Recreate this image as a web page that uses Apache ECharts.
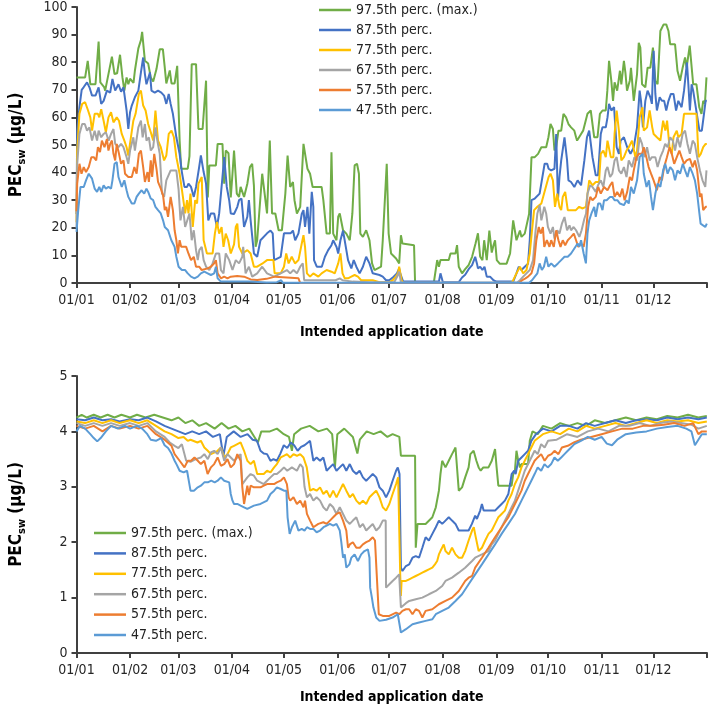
<!DOCTYPE html>
<html>
<head>
<meta charset="utf-8">
<script src="https://cdn.jsdelivr.net/npm/echarts@6/dist/echarts.min.js"></script>
<style>html,body{margin:0;padding:0;background:#fff}#c{width:709px;height:715px}</style>
</head>
<body>
<div id="c"></div>
<script>
// ---- DATA ----
const monthDays = [0,31,59,90,120,151,181,212,243,273,304,334,365];
const monthLabels = ['01/01','01/02','01/03','01/04','01/05','01/06','01/07','01/08','01/09','01/10','01/11','01/12'];
const seriesNames = ['97.5th perc. (max.)','87.5th perc.','77.5th perc.','67.5th perc.','57.5th perc.','47.5th perc.'];
const yTopMax = 100, yTopStep = 10, yBotMax = 5, yBotStep = 1;

// upper panel: [day of year, PEC µg/L]
const top975 = [[0,74.5],[5,74.5],[6.5,80.5],[8,72],[11,72],[12.8,87.5],[13.8,72.7],[16,71],[16.6,69.7],[20.5,82],[22,75.7],[23.5,76],[25.2,82.7],[26.6,74.5],[27.7,69.7],[29,74.5],[30,72],[31,74],[32,74],[33,72.5],[33.8,76.9],[35.8,85],[37.3,88],[38,91],[38.8,91],[39.6,80.5],[41.5,79.5],[43,74.5],[44.4,73],[46.3,77.5],[48.2,84.7],[50,84.7],[51,78.7],[52,72.3],[54,77],[55,72.3],[56.8,72.3],[58.3,78.7],[59.7,51.6],[60.6,41.4],[64.4,41.4],[65.4,46],[66.7,79.3],[69.2,79.3],[70.6,55.8],[73,55.8],[75,73.3],[76,31],[76.9,42.6],[80.7,42.6],[81.7,50.4],[84.5,50.4],[85.5,36],[86.4,48],[88,47],[89.3,31],[90.3,39.6],[91.2,48],[92.8,32.4],[94.1,31.2],[95,34.8],[97,31.2],[98.9,36],[100.4,42],[101.7,43.2],[102.7,35.4],[103.7,13.1],[104.6,15.5],[107.5,39.6],[110.3,25.2],[111.9,51.6],[113.2,25.2],[115.1,25.2],[117,19.1],[118.9,19.1],[120.9,32.4],[122.2,46.2],[123.7,34.8],[125.3,36.6],[126.2,30],[127.6,25.2],[129.5,27.6],[131.4,50.4],[132.3,50.4],[133.7,41.4],[135.2,39.6],[136.7,34.8],[141.9,34.8],[142.9,30],[144.8,17.9],[146.7,17.9],[147.6,47.4],[148.6,17.9],[150.5,15.5],[151.5,24],[152.4,25.2],[154.3,19.1],[156.2,17.9],[158.2,15.5],[159.7,25.2],[161,42.6],[162.4,43.2],[163.5,39.6],[164.3,17.9],[165.8,16.7],[167.7,19.1],[169.6,15.5],[171.1,7.1],[172.5,4.7],[176.3,5.9],[177.3,15.5],[179.6,43.2],[180.7,17.9],[182.1,10.7],[185,8.9],[186.8,7.1],[187.8,17.3],[188.7,14.3],[195.4,13.7],[196,0.3],[206.9,0.3],[208.8,8.3],[209.8,5.9],[210.7,8.3],[215.5,8.3],[216.5,10.7],[219.4,10.7],[220.3,13.7],[221.3,5.9],[223.2,3.5],[225,5],[227,6.5],[229,9.5],[231,14.3],[232.4,18],[233.7,9.5],[235,8.3],[236,15.5],[237.5,8.3],[239,19],[240.4,11],[241.4,13.7],[242.3,15.5],[243.3,8.3],[245,7],[249,7],[251,10.7],[252.8,22.7],[254.7,15.5],[256.7,19],[257.6,16.7],[259.5,17.9],[262,25],[263.4,45.6],[265.3,45.6],[267.2,46.8],[269.1,49.2],[271.9,49.2],[273.2,52.8],[274.4,57.6],[275.8,55.8],[276.7,48],[277.7,49.2],[279,55.2],[280.6,55.2],[281.9,61.3],[283.4,60],[284.8,57.6],[286.3,56.4],[288.2,55.2],[289.2,52.8],[289.8,51.6],[292.1,54],[293.3,55.2],[295.8,61.3],[297.7,62.5],[299.7,52.8],[301.6,52.8],[303,61.3],[304.5,62.5],[306.4,62.5],[307.3,69.7],[308.3,80.5],[309.6,73.3],[310.6,66],[311.5,72.7],[313,69.7],[314.6,76.9],[315.4,72],[316.9,80.5],[317.8,76],[318.7,69.7],[320.3,73.3],[321,78],[322.6,66],[324.5,75.7],[325.5,87],[326.4,85.3],[327.4,72],[329.3,70.9],[330.6,78],[332.2,78],[333.7,85.3],[335.1,73.3],[336.4,72],[338,91.3],[339.9,93.7],[341.4,93.7],[342.7,91.3],[343.7,86.5],[346.5,86.5],[347.9,76.9],[349.4,73.3],[350.9,78],[352.3,81.7],[353.2,78],[355,86],[357,72],[358.9,72],[360.5,63.7],[361.8,61.3],[362.8,66],[363.8,65],[364.7,74.5]];
const top875 = [[0,25],[0.4,55],[1.7,63.7],[3,70],[4.2,71],[6.1,72.7],[7.5,70.9],[9,67.9],[11,67.9],[12.8,70.9],[14.3,64.9],[15.7,66],[17.6,69.7],[19.5,69],[20.8,73.9],[22.4,69.7],[24.3,72],[25.8,69.3],[27.2,70.9],[29,62.5],[30,55.8],[31,61.9],[32,64.3],[33.8,67.3],[35.8,69.7],[37.3,76.3],[38.6,81.7],[39.6,75.7],[40.5,72],[42.5,76.3],[43.4,69.7],[45.3,69],[47.2,69.7],[49.1,69],[50.7,67.9],[52,64.9],[53.4,68.5],[54.5,64.9],[55.8,61.3],[57.8,52.8],[59.7,46.8],[61,40.2],[62.5,34.8],[64,34.8],[64.8,36],[66.3,34.8],[67.9,31.2],[69.2,34.8],[71,42],[72,46.2],[73.6,40.2],[75,36],[76.3,22.7],[77.8,25.2],[79.7,25.2],[81.3,20.3],[82.6,25.2],[84.5,38.4],[85.5,45.6],[87,34.8],[88.4,30],[89.3,25.2],[91.2,25],[93.1,27.6],[94.1,30],[95.5,30.6],[97,20.3],[98.9,24],[99.8,30],[100.8,22.7],[102.7,10.7],[104.6,9.5],[106.5,15.5],[110.3,18],[112.3,19],[113.6,18],[114.4,8.3],[118.2,9.5],[120.1,18],[123.9,18],[125.3,19],[126.6,15.5],[128.5,18],[130.4,25],[131.4,26.4],[132.3,20.3],[133.7,27.6],[134.8,17.9],[136.2,33],[137.1,27.6],[137.5,8.3],[139.1,5.9],[142,5.9],[143.8,9.5],[145.7,11.9],[147.6,13.7],[148.6,15.5],[150.5,13.1],[151.5,10.7],[152.8,15.5],[154.3,19],[155.9,13.1],[157.2,8.3],[159.1,5.3],[160.5,8.3],[162,5.9],[163.9,3.5],[165.8,5.9],[167.7,9.5],[169.6,7.1],[171.5,3.5],[175.4,2.9],[177.3,2.3],[179.2,1],[181.1,1],[183.6,2.3],[185.5,3.5],[186.8,5.3],[187.4,3.5],[189.1,0.5],[209.8,0.5],[210.7,3.5],[212.1,0.3],[221.3,0.3],[223.2,2],[225,3],[227,5],[229,6.5],[230.8,9.5],[231.8,7.1],[232.4,5.3],[233.7,5.9],[235,4.7],[236.2,5.9],[237.5,2.3],[239.4,2.3],[241.4,1],[243,0.5],[252.8,0.5],[254.7,3.5],[256,5.9],[257.6,4.7],[259.5,5.9],[261.4,7],[262.4,15.5],[263.4,30],[265.3,30.6],[266.2,31.2],[268.1,32.4],[271,43.2],[272.5,43.2],[273.3,41.4],[274.8,40.8],[276.7,41.4],[277.7,54],[278.7,30],[279.6,38.4],[280.6,44.4],[281.5,44.4],[282.5,52.8],[284,44.4],[284.8,37.2],[286.3,36.6],[288.2,34.8],[290.1,37.2],[292.1,35.4],[294,44.4],[295.5,52.8],[296.8,55.2],[298.7,45.6],[300.6,39],[301.9,39],[303.5,54],[304.5,56.4],[306.4,56.4],[307.4,60],[308.3,64.9],[309.6,62.5],[311.2,63.7],[312.7,49.2],[314,46.8],[315,51.6],[316.9,52.8],[318.8,49.2],[320.7,46.8],[322.6,49.2],[324.5,56.4],[326,69.7],[326.8,66],[327.9,56.4],[329.3,66],[330.6,69.7],[332.2,67.3],[333.1,64.9],[334.1,84.1],[335.1,68.5],[336,62.5],[337.6,67.3],[338.9,66],[340.2,66],[341.4,62.5],[342.7,66],[344.1,68.5],[345.6,68.5],[347.1,62.5],[348.4,66],[350.3,63.7],[351.7,69.7],[353.4,79.9],[354.2,72],[355.1,62.5],[356.1,72],[357,69.7],[359.1,61.3],[360.6,55.2],[362,55.2],[363,60],[364.2,66],[364.9,66]];
const top775 = [[0,22],[0.4,48],[1.7,61.3],[3.3,64.9],[5,65.5],[6.7,62.5],[8,60],[9,55.2],[10.5,61.3],[12.4,61.3],[13.2,60],[14.3,63],[15.7,58.8],[17,54.6],[18.5,60],[20,61.9],[21.4,58.2],[23.3,60],[24.6,58.8],[26.2,54],[27.7,51.6],[29,49.2],[30,46.2],[31.5,52.8],[32.9,58.8],[34.2,61.3],[36.1,68.5],[37.3,69.7],[38.6,64.3],[40,62.5],[41.5,57.6],[43,54.6],[44.4,51.6],[45.7,62.5],[47.2,51.6],[48.8,49.2],[50.7,44.4],[52,46.2],[53.4,54],[55,55.2],[56.4,52.8],[57.8,45.6],[59.7,39.6],[61.6,31.2],[62.9,25.2],[64,30],[64.8,25.2],[66,32.4],[67.3,20.3],[68.7,30],[69.8,28.8],[70.6,36],[72.5,38.4],[73.6,15.5],[75.5,10.7],[78.8,10.7],[80.1,17.9],[81.3,22.1],[82.6,17.9],[84,20.3],[85.1,13.1],[86.4,17.9],[87.8,15.5],[89.3,10.7],[91.2,14],[92.2,20.3],[93.1,21.5],[94.1,13.1],[96,10.7],[98.9,11.9],[100.8,10.7],[102.7,5.9],[104.6,5.9],[107.5,7],[110.3,8.3],[114,8.3],[114.7,3.5],[118.2,3.5],[120.1,5.9],[121.4,10.7],[122.8,7.1],[124.6,9.5],[126.5,7.1],[128.5,8.3],[130.4,14.3],[131.4,17.3],[132.3,13.1],[133.4,3.5],[135.2,2.3],[137.1,3.5],[140,2.3],[141.9,3.5],[144.8,4.7],[147.6,4.1],[149.5,3.5],[151.5,7.1],[152.8,10.7],[154,3.5],[155.3,1.7],[157.2,1.7],[159.1,2.3],[161,2.9],[162.9,2.3],[164.8,1],[171.5,1],[175.4,0.3],[181.1,0.3],[183,1],[184.9,2.3],[186.1,3.5],[186.8,5.9],[188.2,1],[189.1,0],[252,0],[253.8,2.3],[254.7,3.5],[256.7,5.9],[258.6,3.5],[260.5,4.7],[262.4,10.7],[263.7,19.1],[264.9,26.4],[266.8,27.6],[269.1,28.8],[273.3,38.4],[274.4,39.6],[275.8,37.2],[277,27.6],[278.3,32.4],[279.6,27.6],[280.6,26.4],[281.5,31.2],[282.9,33],[284.4,26.4],[289.1,26.4],[291,27.6],[293,27],[294.9,27.6],[296.8,37.2],[298.7,35.4],[300.6,36.6],[302.5,36.6],[303.5,46.8],[305,48],[306.4,45.6],[307.4,51.6],[308.3,51.6],[309.3,45.6],[310.8,45.6],[311.5,54],[312.7,62.5],[314,55.2],[315.4,44.4],[316.9,45.6],[318.4,48],[319.7,49.2],[321.6,51.6],[323.5,45.6],[324.5,48],[326,60],[327.6,63.7],[328.4,55.2],[330.3,56.4],[331.8,62.5],[333.3,56.4],[334.1,54],[336,52.8],[338,51.6],[339.6,58.8],[340.9,55.2],[341.9,58.8],[343.3,49.2],[344.6,46.8],[345.6,52.8],[347.5,55.2],[348.4,52.8],[350.3,54],[351.7,61.3],[354.2,61.3],[357,61.3],[358.9,61.3],[360.1,45.6],[361.4,46.8],[362.8,49.2],[364.2,50.4],[364.9,50.4]];
const top675 = [[0,20],[0.4,43.2],[1.7,54],[3.3,57.6],[4.8,57.6],[6.1,55.2],[7.5,56.4],[9,51.6],[10.5,55.2],[11.9,51.6],[12.8,55.2],[14.3,52.8],[15.7,54],[17,54.6],[18.6,51.6],[20,54],[21.4,55.8],[22.4,50.4],[24.3,49.2],[25.8,50.4],[27.2,49.2],[29,45.6],[30,43.2],[31,48],[32.9,52.8],[33.8,48],[35.8,56.4],[37.3,58.8],[38.3,52.8],[39.6,57.6],[40.5,51.6],[41.9,52.8],[43,48],[44.4,49.2],[45.7,56.4],[46.8,51.6],[48.2,46.8],[49.5,32.4],[50.7,31.2],[52,37.2],[54.5,40.8],[57.8,40.8],[59.1,33.9],[60.2,22.7],[61.6,27.6],[62.9,20.3],[64,20.3],[65.4,25.2],[66.7,15.5],[67.9,19.1],[69.2,11.9],[70.2,8.3],[71.1,11.9],[72.5,13.1],[73.6,8.3],[75,5.9],[76.9,4.7],[78.8,7.1],[80.7,10.7],[82.6,10.7],[83.6,4.7],[85.1,3.5],[86.4,10.7],[88.4,8.3],[90.3,4.7],[92.2,8.3],[94.1,7.1],[96,9.5],[96.5,13.1],[97.9,3.5],[99.8,5.9],[101.7,2.3],[104.6,3.5],[107.5,5.9],[110.3,3.5],[114.4,2.3],[118.2,3.5],[121.8,4.7],[123.7,3.5],[125.6,4.7],[127.6,3.5],[129.5,5.9],[131,7.1],[131.8,1],[150,1],[152.4,1.7],[154,1],[160,0.5],[170,0.3],[184,0.3],[186.1,2.9],[186.8,4.1],[187.8,0.2],[255,0.2],[256.7,1],[258.6,2.3],[260.5,3.5],[262.4,4.7],[264.3,8.3],[265.6,17.9],[266.8,25.2],[268.1,28.2],[269.1,22.7],[270,25.2],[270.8,27.6],[271.9,25.2],[272.9,20.3],[274.4,17.9],[275.8,20.3],[276.7,16.1],[278.3,19.1],[279.6,17.9],[281,21.5],[282.5,23.9],[284,19.1],[285.4,20.9],[286.3,19.1],[287.8,20.3],[289.2,19.1],[291.1,16.7],[292.4,19.1],[294,23.3],[295,25.2],[295.8,32.4],[297.4,35.4],[298.7,34.8],[300.6,33],[301.9,35.4],[303.5,37.2],[305,34.8],[306.4,40.8],[307.4,42],[308.9,38.4],[310.2,39.6],[311.5,44.4],[312.7,45.6],[314,40.8],[315.4,39.6],[316.9,42],[318.4,38.4],[319.7,44.4],[321.6,42],[323,45.6],[324.5,44.4],[326,52.8],[327.4,50.4],[328.8,45.6],[330.3,49.2],[331.8,44.4],[333.1,45.6],[335.1,45.6],[336.4,42],[338,45.6],[339.6,48],[340.8,50.4],[342.2,49.2],[343.7,52.8],[345.2,51.6],[346.5,48],[347.9,52.8],[349.4,49.2],[350.9,54],[352.3,55.2],[353.7,50.4],[355.1,46.8],[356.7,51.6],[358,50.4],[359.3,45.6],[360.9,40.8],[362.4,37.2],[364,34.8],[364.7,40.8]];
const top575 = [[0,26],[0.4,36],[1.7,43.2],[2.9,39.6],[4.2,42],[5.5,40.2],[7.1,42],[8.6,45.6],[10,45.6],[11.4,44.4],[12.4,49.2],[13.6,47.4],[14.7,51.6],[16.2,49.2],[17.6,52.2],[18.5,48],[19.5,50.4],[20.5,51.6],[21.4,46.8],[22.4,44.4],[23.3,50.4],[24.6,46.8],[25.8,43.2],[27.2,44.4],[28.1,39.6],[30,38.4],[32,38.4],[33.5,42],[34.8,39.6],[36.1,46.8],[37.3,48],[38.6,42],[39.6,36.6],[41.1,40.2],[41.9,36.6],[43,44.4],[43.8,38.4],[45,46.8],[46.3,41.4],[47.2,36.6],[48.8,34.2],[50.1,31.8],[51.1,26.4],[52,27.6],[53,24],[54.5,31.2],[55.8,26.4],[56.8,19.1],[57.8,15.5],[58.7,10.7],[59.7,15.5],[60.6,13.1],[63.5,13.1],[64.8,10.7],[66.3,8.3],[67.9,9.5],[69.2,5.9],[71,5.9],[72.5,4.7],[76,5.3],[77.8,5.9],[79.7,7.1],[80.7,8.3],[81.7,3.5],[83.6,1.7],[85.5,2.3],[87.4,1.7],[89.3,2.3],[93,2.5],[97,2.3],[100.8,1.3],[104.6,1.1],[110,1.5],[115,2.3],[128.5,1.7],[129.5,0],[256,0],[258,1],[259.9,1.7],[261.4,2.3],[263.4,3.5],[264.9,7.1],[266.2,15.5],[267.6,20.3],[268.7,17.9],[270,20.3],[270.8,13.1],[272.3,15.5],[273.8,13.1],[274.8,15.5],[276.3,13.1],[277.7,19.1],[279,15.5],[280.2,13.1],[281.5,15.5],[282.9,13.7],[284.4,15.5],[286.3,16.7],[287.9,17.9],[289.2,15.5],[290.5,13.1],[292.1,14.3],[293.6,13.1],[294.9,17.9],[296.2,27.6],[297.4,31.2],[298.7,30],[300.6,31.2],[302,34.8],[303.5,32.4],[305.4,34.8],[307.4,33.6],[308.9,35.4],[310.2,36.6],[311.5,31.2],[313,33],[314.6,31.2],[316,34.2],[317.3,30],[318.8,33],[320.3,38.4],[321.6,37.2],[322.6,40.8],[324.2,45.6],[325.5,46.8],[327.4,46.8],[328.4,49.2],[329.9,45.6],[331.2,42],[332.6,39.6],[334.1,37.2],[336,33.6],[337.6,38.4],[338.9,37.2],[340.2,42],[341.8,45.6],[343.3,49.2],[344.6,46.8],[346,43.2],[347.5,45.6],[349,48],[350.3,45.6],[351.7,43.2],[353.2,44.4],[355.1,45],[356.7,42],[358,44.4],[359.3,40.8],[360.9,31.2],[361.8,32.4],[362.8,26.4],[364.2,27.6],[364.9,27.6]];
const top475 = [[0,18.5],[1,26.4],[2.3,34.8],[4.2,34.8],[5.5,37.2],[7.1,39.6],[9,37.8],[10.5,34.2],[11.9,33],[13.2,34.8],[14.3,33],[15.7,35.4],[17,34.2],[18.5,34.8],[20,34.2],[20.8,37.2],[22,43.2],[23.3,43.8],[24.3,38.4],[26.2,34.8],[27.7,37.2],[29,33.6],[30,31.2],[32,28.8],[33.5,28.8],[34.8,31.2],[36.1,32.4],[37.7,33.6],[39.2,32.4],[40.5,34.2],[41.5,33],[43,30.6],[44.4,30],[45.7,27.6],[47.2,26.4],[48.8,25.2],[50.1,22.7],[51.1,20.3],[53,19.1],[54.9,15.5],[56.8,13.1],[57.8,9.5],[59.1,5.9],[61,4.7],[62.9,4.7],[64.4,3.5],[66.3,2.3],[68.3,1.7],[70.2,2.3],[72,3.5],[74,4.1],[75.9,3.5],[77.8,2.9],[79.7,3.5],[80.7,5.9],[81.7,1.7],[83.6,0.5],[100,0.5],[110,0.2],[116,0.3],[117,1],[118.5,1],[119.5,0.1],[262,0.1],[263.7,1],[265.3,2.3],[266.8,3.5],[268.1,7.1],[269.4,4.7],[270.6,5.9],[271.9,9.5],[273.2,5.9],[274.8,7.1],[276.7,5.9],[278.7,7.1],[280.6,8.3],[282.5,9.5],[284.4,9.5],[286.3,10.7],[288.2,12.5],[290.1,14.3],[291.1,13.1],[292.1,15.5],[293.6,10.7],[294.9,7.1],[295.8,17.9],[296.8,22.7],[298.1,25.2],[299.7,27.6],[300.6,24],[302,28.8],[303.2,28.8],[304.5,26.4],[305.4,30],[306.9,30],[308.9,31.2],[310.2,31.2],[311.5,30],[313.1,30],[314.6,28.8],[316.9,28.2],[318.4,30],[319.7,28.8],[321,34.8],[322.6,32.4],[324.5,37.2],[326,45.6],[327.6,46.8],[328.4,39.6],[330,34.8],[331.4,37.2],[332.6,31.2],[333.7,26.4],[335.1,32.4],[336.4,36],[338,34.8],[339.6,40.8],[340.8,43.2],[342.2,39.6],[343.7,42],[345.2,40.8],[346.5,37.2],[347.9,40.8],[349.4,39.6],[351,43.2],[352.3,40.8],[353.7,38.4],[355.1,42],[356.7,39.6],[358,37.2],[359.3,32.4],[360.6,25.2],[361.3,21.5],[362.4,21.5],[364,20.3],[364.9,21.5]];

// lower panel: [day of year, PEC µg/L]
const bot975 = [[0,4.25],[3,4.3],[6,4.25],[10,4.3],[14,4.25],[18,4.3],[22,4.25],[26,4.3],[31,4.25],[35,4.3],[40,4.25],[45,4.3],[50,4.25],[55,4.2],[59,4.25],[63,4.15],[67,4.2],[71,4.1],[75,4.15],[80,4.05],[84,4.15],[88,4.05],[92,4.1],[96,4.0],[100,4.05],[103,3.9],[105,3.8],[107,4.0],[112,4.0],[116,4.05],[120,3.95],[123,3.9],[124.7,3.65],[126,3.95],[130,4.05],[135,4.1],[140,4.0],[145,4.05],[148,3.95],[149.6,3.35],[151,3.95],[155,4.05],[160,3.9],[162.6,3.6],[164,3.85],[168,4.0],[172,3.95],[176,4.0],[180,3.9],[183,3.95],[186.9,3.9],[187.8,3.56],[196,3.56],[196.4,1.9],[197.4,2.33],[202.1,2.33],[206,2.45],[208,2.63],[209.8,2.93],[210.7,3.23],[211.7,3.47],[213.6,3.35],[215.5,3.47],[217.4,3.59],[219.4,3.71],[220.3,3.71],[221.3,2.93],[223.2,2.99],[225,3.17],[227,3.35],[228,3.59],[229.9,3.65],[231.5,3.47],[232.8,3.35],[234,3.29],[235.5,3.35],[238.5,3.35],[240.4,3.47],[242.3,3.68],[243.2,3.35],[244.2,3.02],[251.9,3.02],[252.8,3.23],[253.8,3.29],[254.7,3.65],[255.7,3.47],[256.7,3.35],[257.6,3.41],[261.4,3.41],[262.4,3.83],[264,4.0],[267,3.95],[270,4.1],[275,4.05],[280,4.15],[285,4.1],[290,4.15],[295,4.1],[300,4.2],[306,4.15],[312,4.2],[318,4.25],[324,4.2],[330,4.25],[336,4.22],[342,4.28],[348,4.25],[354,4.3],[360,4.25],[364.9,4.28]];
const bot875 = [[0,4.22],[5,4.2],[10,4.25],[15,4.2],[20,4.22],[25,4.18],[31,4.22],[36,4.2],[41,4.25],[46,4.18],[51,4.1],[55,4.05],[59,4.0],[63,3.95],[67,4.0],[71,3.95],[75,4.0],[79,3.9],[83,3.95],[85,3.55],[87,3.9],[91,4.0],[95,3.9],[99,3.95],[102,3.85],[104.5,3.83],[106.5,3.65],[108.4,3.6],[110.3,3.59],[112.3,3.47],[114,3.5],[116,3.47],[118,3.6],[120,3.75],[122,3.7],[124,3.8],[126,3.75],[128,3.65],[130,3.72],[132,3.75],[134,3.8],[135.2,3.83],[137.1,3.47],[139,3.53],[141,3.47],[142.9,3.53],[144.8,3.29],[146.7,3.35],[148.6,3.41],[150.5,3.29],[152.4,3.35],[154.3,3.41],[156.2,3.29],[158.2,3.41],[160,3.29],[162,3.23],[163.9,3.29],[165.8,3.17],[167.7,3.11],[169.6,3.17],[171.5,3.23],[173.5,3.17],[175.4,2.99],[177.3,2.93],[179.2,2.81],[181.1,2.93],[183,3.11],[185,3.29],[186,3.35],[187,3.23],[187.8,1.54],[188.7,1.48],[190.7,1.57],[192.6,1.6],[194.5,1.72],[196.4,1.75],[198.3,1.72],[200.2,1.9],[202.1,2.09],[204,2.03],[206,2.15],[208,2.27],[209.8,2.39],[211.7,2.33],[213.6,2.39],[215.5,2.45],[217.4,2.39],[219.4,2.33],[221.3,2.21],[223.2,2.21],[227,2.21],[228.9,2.33],[230.8,2.48],[231.8,2.42],[233.7,2.57],[234.7,2.69],[235.7,2.57],[240.4,2.57],[242.3,2.57],[244.2,2.63],[246.1,2.69],[248,2.75],[250,2.87],[251,3.05],[251.9,3.23],[253.4,3.29],[254.2,3.23],[255.7,3.47],[257.6,3.53],[259.5,3.59],[261.4,3.65],[263.3,3.83],[266,3.95],[270,4.05],[275,4.0],[280,4.1],[285,4.1],[290,4.05],[295,4.15],[300,4.1],[306,4.15],[312,4.2],[318,4.15],[324,4.2],[330,4.22],[336,4.2],[342,4.25],[348,4.22],[354,4.25],[360,4.22],[364.9,4.25]];
const bot775 = [[0,4.18],[5,4.15],[10,4.2],[15,4.15],[20,4.2],[25,4.15],[31,4.2],[36,4.15],[41,4.2],[46,4.1],[51,4.0],[55,3.95],[59,3.88],[62,3.9],[64.4,3.83],[66,3.85],[70,3.8],[72,3.83],[74,3.71],[76,3.65],[77.8,3.59],[80,3.62],[81.7,3.65],[83.6,3.71],[85.5,3.53],[87.4,3.59],[89.3,3.71],[91.2,3.74],[93.1,3.77],[95,3.8],[97,3.65],[98.9,3.47],[100.8,3.41],[102.7,3.47],[104.6,3.23],[106.5,3.23],[108.4,3.23],[110.3,3.29],[112.3,3.26],[114.4,3.35],[116,3.41],[118.2,3.53],[120,3.56],[121.8,3.59],[123.7,3.53],[125.6,3.59],[127.6,3.56],[129.5,3.59],[131.4,3.53],[133.3,3.35],[135.2,2.93],[137.1,2.96],[139,2.93],[141,2.99],[142.9,2.87],[144.8,2.93],[146.7,2.81],[148.6,2.93],[150.5,2.81],[152.4,2.93],[154.3,3.05],[156.2,2.93],[158.2,2.81],[160,2.87],[162,2.75],[163.9,2.69],[165.8,2.75],[167.7,2.69],[169.6,2.81],[171.5,2.87],[173.5,2.93],[175.4,2.81],[177.3,2.63],[179.2,2.57],[181.1,2.69],[183,2.87],[185,3.05],[186.2,3.17],[187,3.17],[187.4,1.42],[187.8,1.03],[188.2,1.3],[190.7,1.3],[192.6,1.33],[194.5,1.36],[196.4,1.39],[198.3,1.42],[200.2,1.45],[202.1,1.48],[204,1.51],[206,1.54],[207.5,1.6],[208.8,1.66],[209.8,1.78],[210.7,1.84],[212.6,1.96],[213.6,1.84],[215.5,1.78],[217.4,1.9],[219.4,1.78],[221.3,1.72],[223.2,1.72],[225,1.84],[227,2.03],[229,2.21],[230,2.27],[231,2.11],[232.8,1.84],[234.7,1.9],[236.6,2.03],[238.5,2.15],[240.4,2.21],[242.3,2.33],[244.2,2.45],[246.1,2.51],[248,2.57],[250,2.75],[251.9,2.87],[253.8,3.05],[255.7,3.17],[257.6,3.35],[259.5,3.47],[261.4,3.59],[263.3,3.71],[265.2,3.83],[270,3.95],[275,4.0],[280,3.95],[285,4.05],[290,4.0],[295,4.1],[300,4.05],[306,4.1],[312,4.15],[318,4.1],[324,4.15],[330,4.2],[336,4.15],[342,4.2],[348,4.18],[354,4.2],[360,4.15],[364.9,4.18]];
const bot675 = [[0,4.15],[5,4.1],[10,4.15],[15,4.1],[20,4.15],[25,4.1],[31,4.15],[36,4.1],[41,4.15],[46,4.0],[51,3.9],[54,3.8],[56.8,3.74],[59,3.7],[61,3.77],[63.5,3.47],[66,3.45],[69,3.5],[72,3.53],[74,3.59],[76,3.5],[77.8,3.62],[79.7,3.65],[81.7,3.59],[83.6,3.71],[85.5,3.47],[87.4,3.59],[89.3,3.53],[91.2,3.47],[93.1,3.53],[95,3.59],[96,3.05],[97,3.05],[98.9,3.17],[100.8,3.23],[102.7,3.2],[104.6,3.11],[106.5,3.08],[108.4,3.05],[110.3,3.11],[112.3,3.17],[114.4,3.23],[116,3.23],[118.2,3.29],[120.1,3.35],[122,3.29],[124.7,3.35],[127.6,3.29],[129.5,3.41],[131,3.35],[132,3.0],[133.4,2.81],[135.2,2.87],[137.1,2.75],[139,2.81],[141,2.75],[142.9,2.63],[144.8,2.57],[146.7,2.69],[148.6,2.63],[150.5,2.51],[152.4,2.63],[154.3,2.51],[156.2,2.39],[158.2,2.33],[160,2.39],[162,2.45],[164,2.27],[165.8,2.33],[167.7,2.21],[169.6,2.27],[171.5,2.33],[173.5,2.21],[175.4,2.27],[177.3,2.39],[179,2.39],[179.2,1.18],[181.1,1.24],[183,1.3],[185,1.36],[186.8,1.42],[187.8,0.82],[188.7,0.85],[190.7,0.9],[192.6,0.94],[196.4,0.97],[200.2,1.0],[204,1.06],[208,1.12],[211.7,1.21],[213.6,1.3],[217.4,1.36],[221.3,1.45],[225,1.54],[229,1.66],[230.8,1.72],[234.7,1.78],[238.5,1.84],[240.4,1.96],[242.3,2.03],[244.2,2.15],[246.1,2.27],[248,2.39],[250,2.51],[251.9,2.63],[253.8,2.75],[255.7,2.93],[257.6,3.11],[259.5,3.29],[261.4,3.41],[263.3,3.53],[265.2,3.65],[267,3.59],[269,3.77],[271,3.71],[273,3.83],[278,3.85],[284,3.95],[290,3.9],[296,4.0],[302,4.05],[308,4.0],[314,4.1],[320,4.1],[326,4.15],[332,4.1],[338,4.15],[344,4.18],[350,4.15],[356,4.12],[360,4.05],[364.9,4.1]];
const bot575 = [[0,4.1],[5,4.05],[10,4.1],[15,4.0],[20,4.1],[25,4.05],[31,4.1],[36,4.05],[41,4.1],[46,3.95],[51,3.85],[55,3.74],[56.8,3.59],[59.7,3.47],[62.5,3.35],[64.4,3.47],[66.3,3.47],[68.3,3.53],[70.2,3.47],[72,3.41],[74,3.47],[75.9,3.23],[77.8,3.35],[79.7,3.41],[81.7,3.53],[83.6,3.38],[85.5,3.41],[87.4,3.5],[89.3,3.35],[91.2,3.41],[93.1,3.59],[95,3.47],[96,2.99],[97,2.69],[98.9,3.02],[99.8,2.85],[100.8,3.02],[102.7,2.99],[104.6,2.99],[106.5,2.99],[108.4,3.02],[110.3,3.05],[112.3,3.05],[114.4,3.05],[116,3.08],[118.2,3.11],[120.1,3.17],[121.8,3.05],[122.8,2.81],[123.7,2.75],[125.6,2.81],[127.6,2.69],[129.5,2.75],[131.4,2.63],[132.3,2.75],[133.4,2.51],[135.2,2.39],[137.1,2.27],[140,2.33],[142.9,2.36],[144.8,2.33],[146.7,2.39],[148.6,2.45],[150.5,2.51],[152.4,2.54],[154.3,2.39],[156.2,2.21],[157.2,1.9],[158.2,1.96],[160,2.0],[162,1.9],[164,1.9],[165.8,1.96],[167.7,2.0],[169.6,2.03],[171.5,2.09],[172.8,2.03],[173.8,1.42],[175,0.7],[177.3,0.67],[181.1,0.67],[185,0.73],[186.8,0.7],[188.7,0.76],[190.7,0.79],[192.6,0.79],[194.5,0.7],[196.4,0.79],[198.3,0.76],[200.2,0.64],[202.1,0.76],[206,0.79],[209.8,0.88],[213.6,0.94],[217.4,1.0],[221.3,1.12],[225,1.3],[227,1.36],[229,1.39],[230.8,1.54],[234.7,1.72],[238.5,1.9],[242.3,2.09],[246.1,2.27],[250,2.45],[251.9,2.57],[253.8,2.69],[255.7,2.81],[257.6,2.93],[259.5,3.11],[261.4,3.23],[263.3,3.35],[265.2,3.47],[267,3.53],[269,3.59],[271,3.47],[273,3.56],[275,3.59],[276.7,3.65],[279,3.59],[281,3.71],[284.4,3.74],[288,3.8],[292,3.85],[298,3.9],[304,3.95],[310,4.0],[316,4.05],[322,4.05],[328,4.1],[334,4.1],[340,4.12],[346,4.15],[352,4.1],[357,4.15],[360,3.95],[362,4.0],[364.9,4.0]];
const bot475 = [[0,4.0],[2,4.1],[5,4.05],[8,3.95],[10,3.88],[12,3.82],[14,3.88],[17,4.0],[20,4.1],[24,4.05],[28,4.1],[31,4.05],[35,4.1],[38,4.05],[41,3.95],[43,3.85],[46,3.83],[49,3.88],[51,3.75],[53,3.7],[55,3.6],[56.8,3.47],[58,3.4],[59.7,3.29],[62,3.26],[64,3.29],[66,2.93],[68,2.93],[70.2,2.99],[72,3.02],[74,3.08],[76,3.08],[78,3.11],[80,3.08],[81.7,3.11],[83.6,3.17],[85.5,3.11],[88.4,3.08],[89.3,2.87],[90.3,2.75],[91.2,2.69],[93.1,2.69],[95,2.66],[97,2.63],[98.9,2.6],[102.7,2.66],[106.5,2.69],[110.3,2.75],[112.3,2.87],[114.4,2.93],[116,2.99],[118.2,2.96],[120.1,2.93],[121.5,2.93],[122.2,2.45],[123.4,2.15],[124.7,2.27],[126.6,2.39],[128.5,2.21],[130.4,2.24],[132,2.21],[133.4,2.27],[135.2,2.24],[137.1,2.24],[139,2.18],[141,2.21],[143,2.27],[144.8,2.3],[146.7,2.33],[148.6,2.3],[150.5,2.33],[152.4,2.21],[153.3,2.0],[154.3,1.72],[155.3,1.78],[156.2,1.54],[158,1.6],[159.1,1.72],[161,1.78],[162.9,1.66],[164.8,1.78],[166.7,1.84],[168.7,1.87],[169.6,1.72],[170,1.18],[171,1.0],[171.9,0.82],[173.5,0.64],[175.4,0.58],[179.2,0.6],[183,0.64],[186,0.7],[187,0.67],[187.8,0.37],[190.7,0.43],[194.5,0.52],[198.3,0.55],[202.1,0.58],[206,0.61],[208,0.7],[211.7,0.76],[215.5,0.82],[219.4,0.94],[223.2,1.06],[227,1.24],[230.8,1.42],[234.7,1.6],[238.5,1.78],[242.3,1.96],[246.1,2.15],[250,2.33],[253.8,2.51],[255.7,2.63],[257.6,2.75],[259.5,2.87],[261.4,2.99],[263.3,3.11],[265.2,3.23],[267,3.35],[269,3.29],[270.9,3.41],[272.8,3.35],[274.8,3.41],[276.7,3.53],[278.6,3.47],[280.6,3.53],[282.5,3.59],[284.4,3.65],[286.3,3.71],[288.2,3.77],[292,3.83],[296,3.9],[300,3.85],[304,3.9],[307,3.78],[310,3.75],[313,3.85],[318,3.95],[324,3.98],[330,4.0],[336,4.05],[342,4.08],[348,4.1],[353,4.05],[356,4.0],[358,3.75],[360,3.85],[362,3.95],[364.9,3.95]];

const topSeries = [top975, top875, top775, top675, top575, top475];
const botSeries = [bot975, bot875, bot775, bot675, bot575, bot475];

// ---- STYLE ----
const FONT = "'DejaVu Sans Condensed','DejaVu Sans',sans-serif";
const COLORS = ['#70AD47','#4472C4','#FFC000','#A5A5A5','#ED7D31','#5B9BD5'];
const AX = '#404040';
const LEGEND_ICON = 'path://M0,0H32V2.5H0Z';

const chart = echarts.init(document.getElementById('c'), null, {renderer:'canvas'});

function xAxisCfg(gi, gap) {
  return {
    gridIndex: gi, type: 'value', min: 0, max: 365,
    axisLine: {show: true, onZero: false, lineStyle: {color: AX, width: 2}},
    axisTick: {show: true, customValues: monthDays, length: 5, lineStyle: {color: AX, width: 2}},
    axisLabel: {customValues: monthDays.slice(0, 12), margin: 10, fontSize: 14, color: '#262626', fontFamily: FONT,
      formatter: v => monthLabels[monthDays.indexOf(Math.round(v))] || ''},
    splitLine: {show: false},
    name: 'Intended application date', nameLocation: 'middle', nameGap: gap,
    nameTextStyle: {fontWeight: 'bold', fontSize: 14, color: '#000', fontFamily: FONT}
  };
}
function yAxisCfg(gi, max, step) {
  return {
    gridIndex: gi, type: 'value', min: 0, max: max, interval: step,
    axisLine: {show: true, lineStyle: {color: AX, width: 2}},
    axisTick: {show: true, length: 5, lineStyle: {color: AX, width: 2}},
    axisLabel: {margin: 9, fontSize: 14, color: '#262626', fontFamily: FONT},
    splitLine: {show: false},
    name: '{a|PEC}{b|sw}{a| (µg/L)}', nameLocation: 'middle', nameGap: 49,
    nameTextStyle: {
      fontFamily: FONT, fontWeight: 'bold', fontSize: 17, color: '#000',
      rich: {
        a: {fontFamily: FONT, fontWeight: 'bold', fontSize: 17, color: '#000', lineHeight: 22},
        b: {fontFamily: FONT, fontWeight: 'bold', fontSize: 11, color: '#000', lineHeight: 22, verticalAlign: 'bottom', padding: [8, 0, 0, 0]}
      }
    }
  };
}
function legendCfg(left, top, gap) {
  return {
    orient: 'vertical', left: left, top: top, itemWidth: 32, itemHeight: 14, itemGap: gap,
    icon: LEGEND_ICON, symbolKeepAspect: true,
    data: seriesNames, selectedMode: false,
    textStyle: {fontSize: 14, color: '#222', fontFamily: FONT}
  };
}

const series = [];
[topSeries, botSeries].forEach((arr, gi) => {
  arr.forEach((d, i) => {
    series.push({
      name: seriesNames[i], type: 'line', xAxisIndex: gi, yAxisIndex: gi,
      data: d, symbol: 'none', showSymbol: false, smooth: false,
      lineStyle: {color: COLORS[i], width: 2}, itemStyle: {color: COLORS[i]},
      emphasis: {disabled: true}, z: 2 + i
    });
  });
});

chart.setOption({
  animation: false,
  backgroundColor: '#fff',
  textStyle: {fontFamily: FONT},
  grid: [
    {left: 71, top: 6, width: 636, height: 277},
    {left: 71, top: 376, width: 636, height: 277}
  ],
  xAxis: [xAxisCfg(0, 42), xAxisCfg(1, 37)],
  yAxis: [yAxisCfg(0, yTopMax, yTopStep), yAxisCfg(1, yBotMax, yBotStep)],
  legend: [legendCfg(314, -2, 6), legendCfg(89, 521, 6.4)],
  series: series
});
</script>
</body>
</html>
